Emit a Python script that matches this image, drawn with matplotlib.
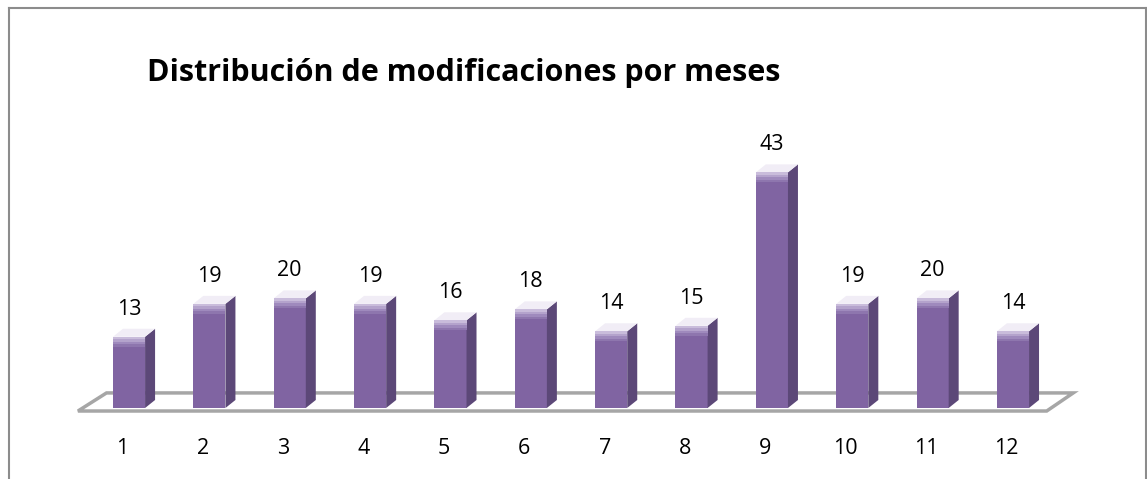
import numpy as np
import matplotlib
matplotlib.use("Agg")
import matplotlib.pyplot as plt
from matplotlib.patches import Polygon
from matplotlib.lines import Line2D

# Datos: modificaciones por mes
meses = [1, 2, 3, 4, 5, 6, 7, 8, 9, 10, 11, 12]
modificaciones = [13, 19, 20, 19, 16, 18, 14, 15, 43, 19, 20, 14]
titulo = "Distribución de modificaciones por meses"

W, H = 1147, 479
fig = plt.figure(figsize=(W / 100, H / 100), dpi=100)
ax = fig.add_axes([0, 0, 1, 1])

# escala: pixeles por unidad
px_x = 80.36
px_y = 5.48
x0_pix = 129   # centro del mes 1
y0_pix = 408   # base de las barras (desde arriba)
ax.set_xlim(1 - x0_pix / px_x, 1 + (W - x0_pix) / px_x)
ax.set_ylim(-(H - y0_pix) / px_y, y0_pix / px_y)
ax.axis("off")

ancho = 0.4
dx = 10 / px_x   # profundidad 3D
dy = 8 / px_y

purple = "#8064a2"
side = "#5c4878"
top_c = "#f1edf6"
gris = "#a6a6a6"

# suelo
suelo = Polygon([(0.365, -0.55), (12.42, -0.55), (12.75, 2.75), (0.72, 2.75)],
                closed=True, fill=False, edgecolor=gris, lw=2.5, zorder=1)
ax.add_patch(suelo)

bars = ax.bar(meses, modificaciones, width=ancho, color=purple, zorder=3)
# degradado en la parte alta del frente
fade = ["#c9bcdb", "#b4a3cc", "#9f8abd", "#8e76ae"]
for b, v in zip(bars, modificaciones):
    x1 = b.get_x()
    x2 = x1 + b.get_width()
    # cara lateral
    ax.add_patch(Polygon([(x2, 0), (x2 + dx, dy), (x2 + dx, v + dy), (x2, v)],
                         closed=True, facecolor=side, edgecolor="none", zorder=3))
    # cara superior
    ax.add_patch(Polygon([(x1, v), (x2, v), (x2 + dx, v + dy), (x1 + dx, v + dy)],
                         closed=True, facecolor=top_c, edgecolor="none", zorder=4))
    h = 0.45
    for k, c in enumerate(fade):
        ax.add_patch(Polygon([(x1, v - (k + 1) * h), (x2, v - (k + 1) * h),
                              (x2, v - k * h), (x1, v - k * h)],
                             closed=True, facecolor=c, edgecolor="none", zorder=4))
    ax.text(b.get_x() + b.get_width() / 2, v + 5.0, str(v), ha="center", va="center",
            fontsize=15.5, family="Open Sans", color="black", zorder=5)

for m in meses:
    ax.text(m - 0.08, -7.3, str(m), ha="center", va="center",
            fontsize=15.5, family="Open Sans", color="black")

fig.text(147 / W, 1 - 73 / H, titulo, ha="left", va="center",
         fontsize=22, fontweight="bold", family="Open Sans", color="black")

# marco
borde = "#8c8c8c"
fig.add_artist(Line2D([9 / W, 1145.5 / W], [1 - 8 / H, 1 - 8 / H], color=borde, lw=1.5))
fig.add_artist(Line2D([9 / W, 9 / W], [0, 1 - 8 / H], color=borde, lw=1.5))
fig.add_artist(Line2D([1145.5 / W, 1145.5 / W], [0, 1 - 8 / H], color=borde, lw=1.5))

fig.savefig("out.png", dpi=100)
